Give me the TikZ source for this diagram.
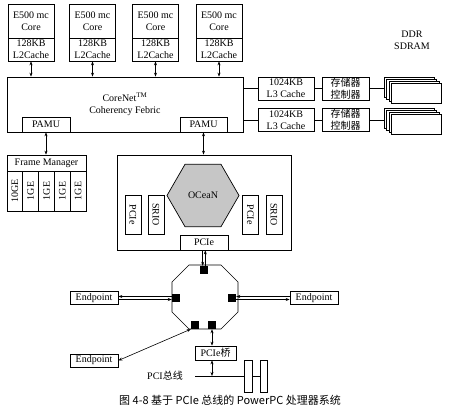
\documentclass[tikz,border=0pt]{standalone}
\usepackage{fontspec}
\setmainfont{Liberation Serif}
\newfontfamily\cjk{Noto Sans CJK SC}
\usetikzlibrary{arrows.meta,shapes.geometric}

\tikzset{
  box/.style={draw, line width=0.7pt, inner sep=1pt, align=center, font=\fontsize{10}{12}\selectfont},
  dimm/.style={draw, line width=0.7pt, fill=white, minimum width=50pt, minimum height=20pt, inner sep=0pt},
  port/.style={fill=black, minimum size=8pt, inner sep=0pt},
  wire/.style={line width=0.6pt},
  link/.style={wire, {Stealth[length=4pt,width=3pt]}-{Stealth[length=4pt,width=3pt]}},
  oneway/.style={wire, -{Stealth[length=4pt,width=3pt]}}
}

\begin{document}
\begin{tikzpicture}[x=1pt,y=-1pt]
  \useasboundingbox (0,0) rectangle (450,411);

  % coherency fabric with its two PAMUs
  \node[box, minimum width=236pt, minimum height=55pt] (fabric) at (125,104.5) {CoreNet\textsuperscript{TM}\\Coherency Febric};
  \node[box, minimum width=48pt, minimum height=15pt] (pamuL) at (46,124.5) {PAMU};
  \node[box, minimum width=47pt, minimum height=15pt] (pamuR) at (203.5,124.5) {PAMU};

  % four cores
  \foreach \i/\x in {1/31,2/92.5,3/155.5,4/219}{
    \node[box, minimum width=46pt, minimum height=34pt] (core\i) at (\x,21) {E500 mc\\Core};
    \node[box, minimum width=46pt, minimum height=23pt] (l2\i) at (\x,49.5) {128KB\\L2Cache};
    \draw[link] (l2\i.south) -- (l2\i.south |- fabric.north);
  }

  % L3 caches, memory controllers and DDR
  \node[font=\fontsize{10}{12}\selectfont, align=center] (ddrtxt) at (412,40) {DDR\\SDRAM};
  \foreach \j/\y in {1/88.5,2/120}{
    \node[box, minimum width=56pt, minimum height=23pt] (l3\j) at (286,\y) {1024KB\\L3 Cache};
    \node[box, minimum width=47pt, minimum height=23pt, font=\cjk\fontsize{10}{12}\selectfont] (ctrl\j) at (345.5,\y) {存储器\\控制器};
    \foreach \k in {0,...,3}
      \node[dimm] (ddr\j-\k) at ({409+2.6*\k},{\y-1.5+2*\k}) {};
    \draw[wire] (fabric.east |- l3\j.west) -- (l3\j.west);
    \draw[wire] (l3\j.east) -- (ctrl\j.west);
    \draw[wire] (ctrl\j.east) -- (ctrl\j.east -| ddr\j-0.west);
  }

  % frame manager
  \node[box, minimum width=79pt, minimum height=16pt] (fmhead) at (46.5,163) {Frame Manager};
  \foreach \i/\t in {1/10GE,2/1GE,3/1GE,4/1GE,5/1GE}
    \node[box, rotate=90, minimum width=40pt, minimum height=15.8pt, inner sep=0pt] (ge\i) at ({7+15.8*\i-7.9},191) {\t};
  \draw[link] (pamuL.south) -- (pamuL.south |- fmhead.north);

  % OCeaN block
  \node[box, minimum width=174pt, minimum height=95pt] (soc) at (204,202.5) {};
  \node[draw, line width=0.7pt, fill=gray!45, regular polygon, regular polygon sides=6, minimum size=72pt, inner sep=0pt, font=\fontsize{10}{12}\selectfont] (ocean) at (203,195.5) {OCeaN};
  \foreach \n/\x/\t in {pcieL/133/PCIe,srioL/156/SRIO,pcieR/250.5/PCIe,srioR/274/SRIO}
    \node[box, rotate=-90, minimum width=39pt, minimum height=16pt, inner sep=0pt] (\n) at (\x,214.5) {\t};
  \node[box, minimum width=48pt, minimum height=15pt] (pcie) at (204,242.5) {PCIe};
  \draw[link] (pamuR.south) -- (pamuR.south |- soc.north);

  % PCIe switch
  \draw[line width=0.7pt] (189,265) -- (221,265) -- (238,282) -- (238,312) -- (221,329) -- (189,329) -- (172,312) -- (172,282) -- cycle;
  \node[port] (sqT) at (204,270) {};
  \node[port] (sqL) at (176,298) {};
  \node[port] (sqR) at (232,298) {};
  \node[port] (sqBL) at (195,325) {};
  \node[port] (sqBR) at (212,325) {};

  \draw[oneway] ([xshift=-1.3pt]pcie.south) -- ([xshift=-1.3pt]sqT.north);
  \draw[oneway] ([xshift=1.3pt]sqT.north) -- ([xshift=1.3pt]pcie.south);

  \node[box, minimum width=48pt, minimum height=13pt] (epL) at (94,298) {Endpoint};
  \node[box, minimum width=48pt, minimum height=13pt] (epR) at (314,298) {Endpoint};
  \node[box, minimum width=48pt, minimum height=13pt] (epB) at (94,360.5) {Endpoint};
  \draw[oneway] ([yshift=1.5pt]sqL.west) -- ([yshift=1.5pt]epL.east);
  \draw[oneway] ([yshift=-1.5pt]epL.east) -- ([yshift=-1.5pt]sqL.west);
  \draw[oneway] ([yshift=1.5pt]epR.west) -- ([yshift=1.5pt]sqR.east);
  \draw[oneway] ([yshift=-1.5pt]sqR.east) -- ([yshift=-1.5pt]epR.west);
  \draw[link] (sqBL.south west) -- (epB.east);

  % bridge and PCI bus
  \node[box, minimum width=41pt, minimum height=14pt] (pcibr) at (215.5,353) {PCIe{\cjk 桥}};
  \draw[link] (sqBR.south) -- (sqBR.south |- pcibr.north);
  \coordinate (busL) at (195,376);
  \node[draw, line width=0.7pt, minimum width=8pt, minimum height=32pt, inner sep=0pt] (card1) at (248,376) {};
  \node[draw, line width=0.7pt, minimum width=7pt, minimum height=32pt, inner sep=0pt] (card2) at (263.5,376) {};
  \draw[wire] (busL) -- (card1.west);
  \draw[wire] (card1.east) -- (card2.west);
  \draw[link] (sqBR.south |- pcibr.south) -- (sqBR.south |- busL);
  \node[anchor=east, inner sep=0pt, font=\fontsize{10}{12}\selectfont] (buslbl) at (183,376) {PCI{\cjk 总线}};

  % caption
  \node[font=\cjk\fontsize{11}{13}\selectfont] (caption) at (230,400) {图 4-8 基于 PCIe 总线的 PowerPC 处理器系统};
\end{tikzpicture}
\end{document}
